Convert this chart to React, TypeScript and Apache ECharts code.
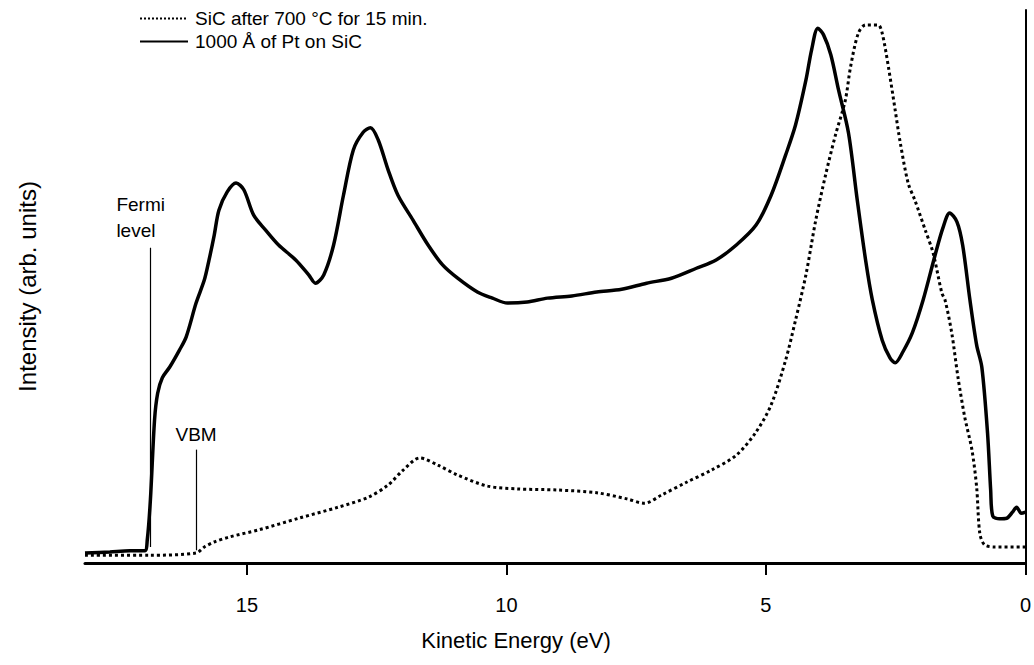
import React, { useEffect, useRef } from "react";
import * as echarts from "echarts";

// Kinetic energy (eV) / intensity (arb. units)
const ptEnergy = [18.12, 17.64, 17.26, 16.97, 16.92, 16.86, 16.78, 16.72, 16.63, 16.49, 16.3, 16.17, 15.98, 15.82, 15.73, 15.63, 15.54, 15.38, 15.21, 15.06, 14.87, 14.64, 14.39, 14.06, 13.81, 13.68, 13.52, 13.33, 13.14, 12.95, 12.76, 12.62, 12.47, 12.28, 12.09, 11.8, 11.51, 11.23, 10.94, 10.56, 10.27, 9.98, 9.6, 9.21, 8.74, 8.26, 7.78, 7.3, 6.82, 6.34, 5.96, 5.57, 5.19, 4.9, 4.62, 4.43, 4.23, 4.12, 4.0, 3.89, 3.75, 3.6, 3.41, 3.24, 3.08, 2.95, 2.76, 2.61, 2.51, 2.36, 2.18, 1.97, 1.74, 1.59, 1.46, 1.32, 1.21, 1.07, 0.94, 0.84, 0.73, 0.67, 0.63, 0.5, 0.36, 0.25, 0.17, 0.08, 0.0];
const ptIntensity = [1.8, 2.0, 2.2, 2.2, 4.2, 11.4, 25.9, 30.7, 33.5, 35.4, 38.5, 40.9, 47.0, 51.2, 54.8, 59.3, 63.8, 67.1, 68.7, 67.5, 62.9, 60.2, 57.5, 54.8, 52.1, 50.6, 52.1, 57.5, 66.5, 74.7, 77.9, 78.7, 76.5, 71.1, 66.5, 62.0, 57.5, 53.9, 51.5, 49.0, 47.9, 47.0, 47.2, 47.9, 48.3, 49.0, 49.5, 50.6, 51.5, 53.3, 54.8, 57.5, 61.1, 66.5, 73.8, 79.2, 87.3, 92.8, 96.7, 95.5, 91.9, 85.5, 77.8, 65.6, 54.8, 47.6, 40.3, 37.1, 36.2, 38.2, 41.6, 47.6, 55.7, 60.6, 63.3, 61.7, 57.5, 47.6, 39.4, 35.4, 23.5, 13.2, 8.5, 8.0, 8.1, 9.2, 10.1, 9.0, 9.2];

const sicEnergy = [18.12, 16.88, 15.98, 15.82, 15.63, 15.34, 14.77, 14.0, 13.24, 12.66, 12.28, 11.99, 11.67, 11.32, 10.94, 10.36, 9.79, 9.02, 8.26, 7.68, 7.34, 7.01, 6.53, 6.05, 5.57, 5.19, 4.9, 4.62, 4.43, 4.23, 4.04, 3.85, 3.66, 3.47, 3.37, 3.22, 3.08, 2.84, 2.76, 2.64, 2.51, 2.41, 2.26, 2.13, 1.93, 1.78, 1.61, 1.55, 1.42, 1.3, 1.17, 1.03, 0.94, 0.88, 0.79, 0.59, 0.0];
const sicIntensity = [1.4, 1.4, 1.8, 2.9, 3.8, 4.7, 6.0, 8.1, 10.1, 11.9, 14.1, 16.8, 19.0, 17.7, 15.9, 13.9, 13.4, 13.2, 12.7, 11.6, 10.8, 12.3, 14.6, 16.8, 19.5, 23.7, 28.6, 36.7, 43.9, 52.1, 62.0, 70.2, 77.4, 83.7, 89.7, 95.8, 97.3, 97.3, 95.8, 89.7, 81.9, 75.9, 68.7, 65.6, 60.2, 56.1, 48.8, 47.6, 41.6, 33.6, 26.4, 20.4, 13.7, 5.4, 3.3, 2.9, 2.9];

const seriesNames = ["SiC after 700 °C for 15 min.", "1000 Å of Pt on SiC"];
const xTicks = [0, 5, 10, 15];
const fermiLevel = 16.86;
const vbm = 15.98;

const FONT = "Liberation Sans, Arial, Helvetica, sans-serif";

export default function App() {
  const ref = useRef<HTMLDivElement>(null);
  useEffect(() => {
    if (!ref.current) return;
    const chart = echarts.init(ref.current, null, { renderer: "svg" });
    const zip = (a: number[], b: number[]) => a.map((v, i) => [v, b[i]]);
    chart.setOption({
      animation: false,
      backgroundColor: "#fff",
      textStyle: { fontFamily: FONT, color: "#000" },
      grid: { left: 85, right: 3, top: 10, bottom: 102, containLabel: false },
      legend: {
        orient: "vertical",
        left: 134,
        top: 4,
        itemWidth: 48,
        itemHeight: 6,
        itemGap: 4,
        itemStyle: { opacity: 0 },
        textStyle: { fontFamily: FONT, fontSize: 19, color: "#000", padding: [0, 0, 0, 2] },
        data: seriesNames,
      },
      xAxis: {
        type: "value",
        inverse: true,
        min: 0,
        max: 18.12,
        interval: 5,
        splitLine: { show: false },
        axisLine: { show: true, lineStyle: { color: "#000", width: 3 } },
        axisTick: { show: true, inside: false, length: 12, lineStyle: { color: "#000", width: 2 } },
        axisLabel: {
          margin: 32,
          fontSize: 20,
          color: "#000",
          fontFamily: FONT,
          showMaxLabel: false,
          alignMinLabel: "center",
          formatter: (v: number) => (xTicks.includes(v) ? String(v) : ""),
        },
      },
      yAxis: {
        type: "value",
        min: 0,
        max: 100,
        name: "Intensity (arb. units)",
        nameLocation: "middle",
        nameGap: 46,
        nameTextStyle: { fontSize: 24, color: "#000", fontFamily: FONT },
        splitLine: { show: false },
        axisLine: { show: true, lineStyle: { color: "#000", width: 2 } },
        axisTick: { show: false },
        axisLabel: { show: false },
      },
      graphic: [
        {
          type: "text",
          x: 516,
          y: 640,
          style: {
            text: "Kinetic Energy (eV)",
            fontSize: 22,
            fontFamily: FONT,
            fill: "#000",
            textAlign: "center",
            textVerticalAlign: "middle",
          },
        },
      ],
      series: [
        {
          name: seriesNames[0],
          type: "line",
          data: zip(sicEnergy, sicIntensity),
          symbol: "none",
          smooth: 0.3,
          lineStyle: { color: "#000", width: 3, type: "dotted" },
          itemStyle: { color: "#000" },
          markLine: {
            silent: true,
            symbol: "none",
            lineStyle: { color: "#000", width: 1.2, type: "solid" },
            label: { show: true, position: "end", formatter: "VBM", fontSize: 19, color: "#000", fontFamily: FONT, distance: 6 },
            data: [[{ coord: [vbm, 2.3] }, { coord: [vbm, 20.5] }]],
          },
        },
        {
          name: seriesNames[1],
          type: "line",
          data: zip(ptEnergy, ptIntensity),
          symbol: "none",
          smooth: 0.3,
          lineStyle: { color: "#000", width: 3.5, type: "solid" },
          itemStyle: { color: "#000" },
          markLine: {
            silent: true,
            symbol: "none",
            lineStyle: { color: "#000", width: 1.2, type: "solid" },
            label: {
              show: true,
              position: "end",
              formatter: "Fermi\nlevel",
              fontSize: 19,
              lineHeight: 26,
              color: "#000",
              fontFamily: FONT,
              distance: 4,
              align: "left",
              offset: [-34, 0],
            },
            data: [[{ coord: [fermiLevel, 2.9] }, { coord: [fermiLevel, 57] }]],
          },
        },
      ],
    });
    return () => chart.dispose();
  }, []);
  return (
    <div
      ref={ref}
      style={{ position: "fixed", left: 0, top: 0, width: 1034, height: 665, background: "#fff" }}
    />
  );
}
